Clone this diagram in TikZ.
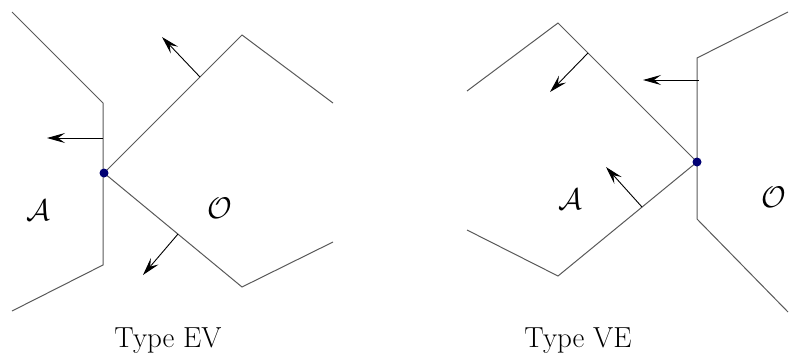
\documentclass[tikz,border=0pt]{standalone}
\usetikzlibrary{arrows.meta}
\begin{document}
\begin{tikzpicture}[x=1pt,y=-1pt,
  edge/.style={draw=black!65,line width=1pt},
  normal/.style={draw=black,line width=0.9pt,-{Stealth[length=18pt,width=10pt,inset=7pt]}},
  vtx/.style={circle,fill=blue!45!black,inner sep=0pt,minimum size=9pt},
  lbl/.style={font=\Huge,scale=1.2},
  captext/.style={font=\fontsize{29}{34}\selectfont,anchor=base}]
\useasboundingbox (0,0) rectangle (795,354);
% ---- Type EV ----
\coordinate (a1) at (12,12);
\coordinate (a2) at (103,103);
\coordinate (a3) at (103,265);
\coordinate (a4) at (12,311);
\coordinate (o1) at (242,35);
\coordinate (o2) at (333,103);
\coordinate (o3) at (242,287);
\coordinate (o4) at (333,242);
\draw[edge] (a1) -- (a2) -- (a3) -- (a4);
\draw[edge] (o2) -- (o1) -- (104,173) -- (o3) -- (o4);
\node[vtx] (v1) at (104,173) {};
\coordinate (n1s) at (103,138); \coordinate (n1e) at (47,138);
\coordinate (n2s) at (200,77); \coordinate (n2e) at (162,37);
\coordinate (n3s) at (178,234); \coordinate (n3e) at (143,275);
\draw[normal] (n1s) -- (n1e);
\draw[normal] (n2s) -- (n2e);
\draw[normal] (n3s) -- (n3e);
\node[lbl] (A1) at (38,210) {$\mathcal{A}$};
\node[lbl] (O1) at (220,208) {$\mathcal{O}$};
\node[captext] (t1) at (168,347) {Type EV};
% ---- Type VE ----
\coordinate (b1) at (467,91);
\coordinate (b2) at (558,23);
\coordinate (b3) at (467,230);
\coordinate (b4) at (558,276);
\coordinate (c1) at (788,12);
\coordinate (c2) at (697,58);
\coordinate (c3) at (697,219);
\coordinate (c4) at (788,312);
\draw[edge] (b1) -- (b2) -- (697,162) -- (b4) -- (b3);
\draw[edge] (c1) -- (c2) -- (c3) -- (c4);
\node[vtx] (v2) at (697,162) {};
\coordinate (m1s) at (699,80); \coordinate (m1e) at (643,80);
\coordinate (m2s) at (588,53); \coordinate (m2e) at (550,92);
\coordinate (m3s) at (642,207); \coordinate (m3e) at (606,167);
\draw[normal] (m1s) -- (m1e);
\draw[normal] (m2s) -- (m2e);
\draw[normal] (m3s) -- (m3e);
\node[lbl] (A2) at (570,199) {$\mathcal{A}$};
\node[lbl] (O2) at (774,197) {$\mathcal{O}$};
\node[captext] (t2) at (578,347) {Type VE};
\end{tikzpicture}
\end{document}
